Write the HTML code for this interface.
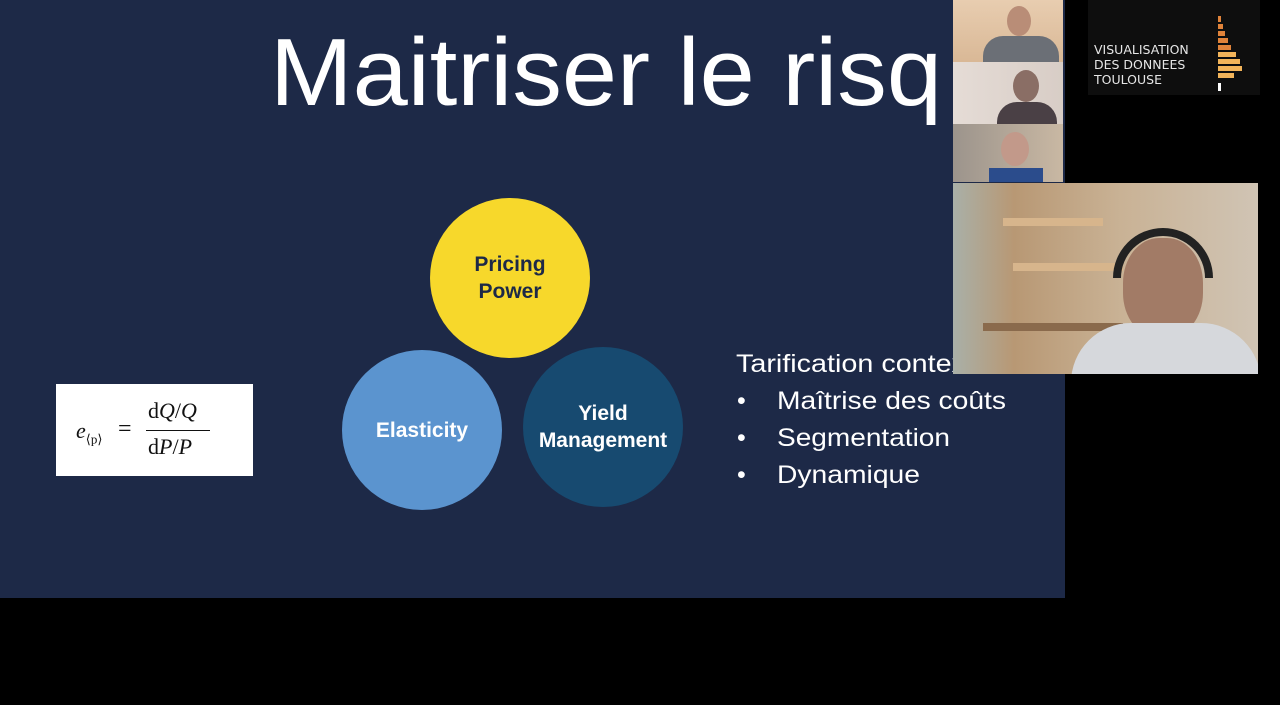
<!DOCTYPE html>
<html><head><meta charset="utf-8"><style>
*{margin:0;padding:0;box-sizing:border-box}
body{width:1280px;height:705px;background:#000;position:relative;overflow:hidden;font-family:"Liberation Sans","DejaVu Sans",sans-serif}
.abs{position:absolute}
#slide{left:0;top:0;width:1065px;height:598px;background:#1d2947}
.circle{border-radius:50%;display:flex;align-items:center;justify-content:center;text-align:center;color:#fff;font-weight:bold;font-size:21px;line-height:27px}
.tile{overflow:hidden}
</style></head><body>
<div id="slide" class="abs">
  <svg class="abs" style="left:0;top:0" width="1065" height="598">
    <text x="270" y="105" font-size="96" fill="#fff" font-family="Liberation Sans, sans-serif" textLength="672" lengthAdjust="spacingAndGlyphs">Maitriser le risq</text>
    <g fill="#fff" font-family="Liberation Sans, sans-serif" font-size="25">
      <text x="736" y="372" textLength="230" lengthAdjust="spacingAndGlyphs">Tarification contex</text>
      <text x="737" y="409">•</text>
      <text x="777" y="409" textLength="229" lengthAdjust="spacingAndGlyphs">Maîtrise des coûts</text>
      <text x="737" y="446">•</text>
      <text x="777" y="446" textLength="173" lengthAdjust="spacingAndGlyphs">Segmentation</text>
      <text x="737" y="483">•</text>
      <text x="777" y="483" textLength="143" lengthAdjust="spacingAndGlyphs">Dynamique</text>
    </g>
  </svg>
  <div class="abs circle" style="left:430px;top:198px;width:160px;height:160px;background:#f7d82b;color:#1d2947">Pricing<br>Power</div>
  <div class="abs circle" style="left:342px;top:350px;width:160px;height:160px;background:#5b94cf">Elasticity</div>
  <div class="abs circle" style="left:523px;top:347px;width:160px;height:160px;background:#174a70">Yield<br>Management</div>
  <div class="abs" style="left:56px;top:384px;width:197px;height:92px;background:#fff;font-family:'Liberation Serif',serif;color:#111">
    <span class="abs" style="left:20px;top:34px;font-size:22px;font-style:italic">e<sub style="font-size:13px;font-style:normal">⟨p⟩</sub></span>
    <span class="abs" style="left:62px;top:32px;font-size:24px">=</span>
    <span class="abs" style="left:92px;top:14px;font-size:22px">d<i>Q</i>/<i>Q</i></span>
    <span class="abs" style="left:90px;top:46px;width:64px;border-top:1.5px solid #111"></span>
    <span class="abs" style="left:92px;top:50px;font-size:22px">d<i>P</i>/<i>P</i></span>
  </div>
</div>
<div class="abs" style="left:1065px;top:0;width:215px;height:598px;background:#000"></div>
<div class="abs tile" style="left:953px;top:0;width:110px;height:62px;background:linear-gradient(180deg,#e8cdb0,#d9b896)">
  <div class="abs" style="left:54px;top:6px;width:24px;height:30px;border-radius:50%;background:#b98d77"></div>
  <div class="abs" style="left:30px;top:36px;width:76px;height:30px;border-radius:20px 20px 0 0;background:#6b6f76"></div>
</div>
<div class="abs tile" style="left:953px;top:62px;width:110px;height:62px;background:linear-gradient(90deg,#e5dcd6,#d8cdc6)">
  <div class="abs" style="left:60px;top:8px;width:26px;height:32px;border-radius:50%;background:#8a6e65"></div>
  <div class="abs" style="left:44px;top:40px;width:60px;height:24px;border-radius:20px 20px 0 0;background:#4a4045"></div>
</div>
<div class="abs tile" style="left:953px;top:124px;width:110px;height:58px;background:linear-gradient(90deg,#9c948c,#c9b8a3)">
  <div class="abs" style="left:48px;top:8px;width:28px;height:34px;border-radius:50%;background:#c2998a"></div>
  <div class="abs" style="left:36px;top:44px;width:54px;height:16px;background:#2b4c8c"></div>
</div>
<div class="abs" style="left:1088px;top:0;width:172px;height:95px;background:#0e0e0e">
  <div class="abs" style="left:6px;top:42px;color:#e6e6e6;font-size:12.5px;line-height:15px;font-family:'DejaVu Sans',sans-serif">VISUALISATION<br>DES DONNEES<br>TOULOUSE</div>
  <svg class="abs" style="left:130px;top:6px" width="30" height="88">
    <g fill="#e0833a"><rect x="0" y="10" width="3" height="6"/><rect x="0" y="18" width="5" height="5"/><rect x="0" y="25" width="7" height="5"/><rect x="0" y="32" width="10" height="5"/><rect x="0" y="39" width="13" height="5"/></g>
    <g fill="#f2b45a"><rect x="0" y="46" width="18" height="5"/><rect x="0" y="53" width="22" height="5"/><rect x="0" y="60" width="24" height="5"/><rect x="0" y="67" width="16" height="5"/></g>
    <rect x="0" y="77" width="3" height="8" fill="#fff"/>
  </svg>
</div>
<div class="abs tile" style="left:953px;top:183px;width:305px;height:191px;background:linear-gradient(90deg,#a9b0a8 0%,#b89874 20%,#c9b295 55%,#d0c4b4 100%)">
  <div class="abs" style="left:50px;top:35px;width:100px;height:8px;background:#d7b58c"></div>
  <div class="abs" style="left:60px;top:80px;width:110px;height:8px;background:#d7b58c"></div>
  <div class="abs" style="left:30px;top:140px;width:140px;height:8px;background:#8a6a4c"></div>
  <div class="abs" style="left:170px;top:55px;width:80px;height:100px;border-radius:45%;background:#a27b66"></div>
  <div class="abs" style="left:160px;top:45px;width:100px;height:50px;border-radius:50px 50px 0 0;border:8px solid #222;border-bottom:none"></div>
  <div class="abs" style="left:118px;top:140px;width:190px;height:60px;border-radius:60px 60px 0 0;background:#d6d8dc"></div>
</div>
</body></html>
